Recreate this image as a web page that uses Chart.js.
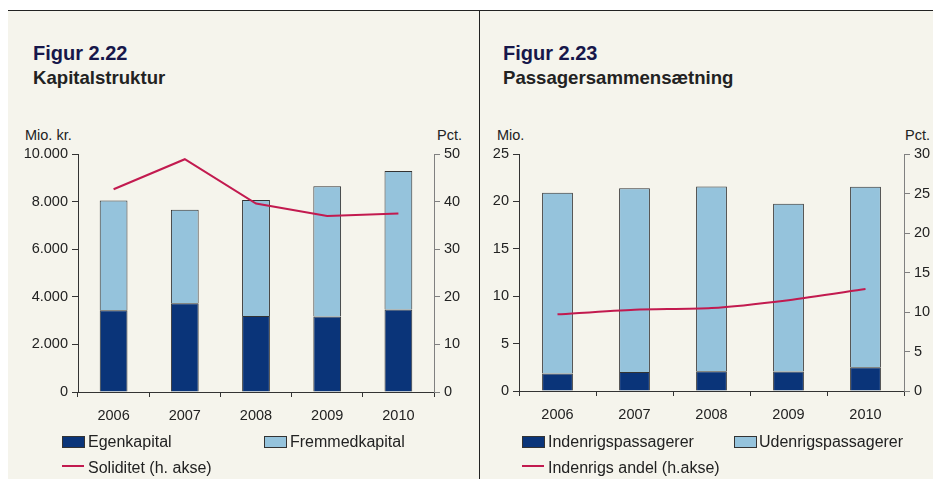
<!DOCTYPE html>
<html>
<head>
<meta charset="utf-8">
<script src="https://cdn.jsdelivr.net/npm/chart.js@4"></script>
<style>
body{margin:0;background:#fff;width:933px;height:479px;overflow:hidden;position:relative;font-family:"Liberation Sans",Arial,sans-serif;color:#222}
.panel{position:absolute;left:8px;top:10px;width:925px;height:469px;background:#f5f4ec;border-top:1px solid #222}
.divider{position:absolute;left:479px;top:10px;width:1px;height:469px;background:#222}
.t{position:absolute;white-space:nowrap}
.fig{font-size:20px;line-height:20px;font-weight:bold;color:#17174a}
.sub{font-size:18.6px;line-height:18px;font-weight:bold;color:#222}
.unit{font-size:14.5px;line-height:15px;color:#222}
.leg{font-size:16px;line-height:16px;color:#222}
.sw{position:absolute;width:21px;height:10px;border:1px solid #333}
.ln{position:absolute;width:22px;height:2px;background:#c21a4f}
canvas{position:absolute}
</style>
</head>
<body>
<div class="panel"></div>
<div class="divider"></div>

<div class="t fig" style="left:33px;top:43px">Figur 2.22</div>
<div class="t sub" style="left:33px;top:69px">Kapitalstruktur</div>
<div class="t unit" style="left:25px;top:128px">Mio. kr.</div>
<div class="t unit" style="right:471px;top:128px">Pct.</div>

<div class="t fig" style="left:503px;top:43px">Figur 2.23</div>
<div class="t sub" style="left:503px;top:69px">Passagersammensætning</div>
<div class="t unit" style="left:497px;top:128px">Mio.</div>
<div class="t unit" style="right:3px;top:128px">Pct.</div>

<canvas id="c1" width="480" height="300" style="left:0;top:140px"></canvas>
<canvas id="c2" width="453" height="300" style="left:480px;top:140px"></canvas>

<div class="sw" style="left:62px;top:436px;background:#0a3479"></div>
<div class="t leg" style="left:88px;top:434px">Egenkapital</div>
<div class="sw" style="left:264px;top:436px;background:#95c3dc"></div>
<div class="t leg" style="left:290px;top:434px">Fremmedkapital</div>
<div class="ln" style="left:62px;top:465px"></div>
<div class="t leg" style="left:88px;top:460px">Soliditet (h. akse)</div>

<div class="sw" style="left:522px;top:436px;background:#0a3479"></div>
<div class="t leg" style="left:548px;top:434px">Indenrigspassagerer</div>
<div class="sw" style="left:734px;top:436px;background:#95c3dc"></div>
<div class="t leg" style="left:759px;top:434px">Udenrigspassagerer</div>
<div class="ln" style="left:522px;top:465px"></div>
<div class="t leg" style="left:548px;top:460px">Indenrigs andel (h.akse)</div>

<script>
// figur 2.22
const years = ['2006','2007','2008','2009','2010'];
const egenkapital = [3430, 3730, 3190, 3170, 3470];
const fremmedkapital = [4620, 3930, 4880, 5470, 5820];
const soliditet = [42.6, 48.9, 39.6, 37.0, 37.5];

// figur 2.23
const indenrigs = [1.85, 2.0, 2.08, 2.05, 2.5];
const udenrigs = [19.05, 19.4, 19.5, 17.7, 19.05];
const indenrigsAndel = [9.7, 10.3, 10.5, 11.5, 12.9];

const dark = '#0a3479';
const light = '#95c3dc';
const red = '#c21a4f';
const tickFont = {family: '"Liberation Sans", Arial, sans-serif', size: 14.5};

function fmt(v){
    return String(v).replace(/\B(?=(\d{3})+(?!\d))/g, '.');
}

function makeChart(id, d1, d2, line, opt){
    const ctx = document.getElementById(id).getContext('2d');
    return new Chart(ctx, {
        type: 'bar',
        data: {
            labels: years,
            datasets: [
                {type: 'line', data: line, yAxisID: 'y1', borderColor: red, borderWidth: 2,
                 pointRadius: 0, tension: opt.tension, order: 0},
                {data: d1, backgroundColor: dark, borderColor: '#333', borderWidth: 1,
                 barPercentage: opt.bar, categoryPercentage: 1, order: 1},
                {data: d2, backgroundColor: light, borderColor: '#333', borderWidth: 1,
                 barPercentage: opt.bar, categoryPercentage: 1, order: 1}
            ]
        },
        options: {
            responsive: false,
            animation: false,
            devicePixelRatio: 1,
            layout: {padding: {top: 14, left: 0, right: 0, bottom: 0}},
            plugins: {legend: {display: false}, tooltip: {enabled: false}},
            scales: {
                x: {
                    stacked: true,
                    grid: {offset: true, drawOnChartArea: false, tickLength: 5, color: '#333'},
                    border: {color: '#333'},
                    ticks: {font: tickFont, color: '#222', padding: 10},
                    afterFit: s => { s.height = opt.xh; }
                },
                y: {
                    stacked: true, min: 0, max: opt.max, position: 'left',
                    grid: {drawOnChartArea: false, tickLength: 6, color: '#333'},
                    border: {color: '#333'},
                    ticks: {stepSize: opt.step, font: tickFont, color: '#222', padding: 4, callback: v => fmt(v)},
                    afterFit: s => { s.width = opt.yw; }
                },
                y1: {
                    min: 0, max: opt.max1, position: 'right',
                    grid: {drawOnChartArea: false, tickLength: 6, color: '#808080'},
                    border: {color: '#808080'},
                    ticks: {stepSize: opt.step1, font: tickFont, color: '#222', padding: 4},
                    afterFit: s => { s.width = opt.y1w; }
                }
            }
        }
    });
}

makeChart('c1', egenkapital, fremmedkapital, soliditet,
    {max: 10000, step: 2000, max1: 50, step1: 10, bar: 0.39, yw: 78, y1w: 46, xh: 48, tension: 0});
makeChart('c2', indenrigs, udenrigs, indenrigsAndel,
    {max: 25, step: 5, max1: 30, step1: 5, bar: 0.4, yw: 39, y1w: 29, xh: 49, tension: 0.25});
</script>
</body>
</html>
